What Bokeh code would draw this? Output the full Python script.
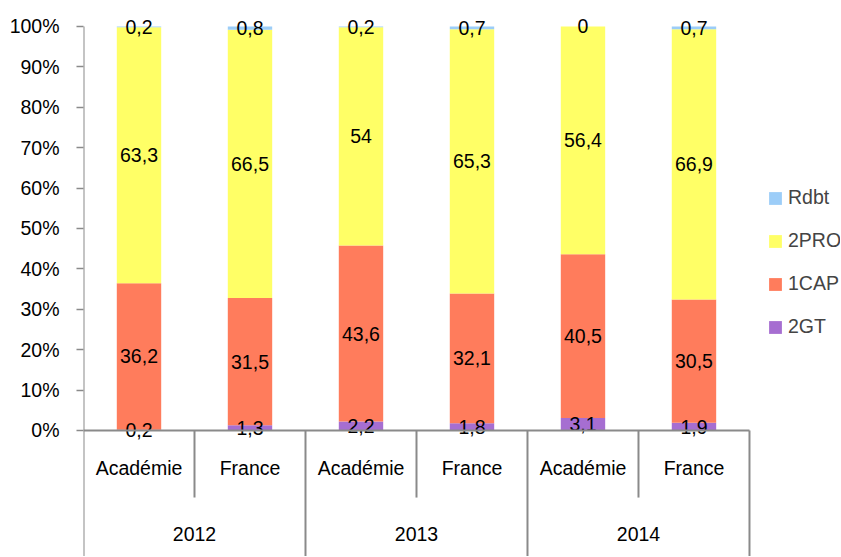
import numpy as np
from bokeh.plotting import figure
from bokeh.models import ColumnDataSource, Range1d, FixedTicker, CustomJSTickFormatter, Legend, LegendItem
from bokeh.core.properties import value
from bokeh.embed import file_html
from bokeh.resources import INLINE

years = ["2012", "2013", "2014"]
entities = ["Académie", "France"]
series = ["2GT", "1CAP", "2PRO", "Rdbt"]
gt2 = [0.2, 1.3, 2.2, 1.8, 3.1, 1.9]
cap1 = [36.2, 31.5, 43.6, 32.1, 40.5, 30.5]
pro2 = [63.3, 66.5, 54.0, 65.3, 56.4, 66.9]
rdbt = [0.2, 0.8, 0.2, 0.7, 0.0, 0.7]
colors = ["#A66ED1", "#FF7C5C", "#FFFF66", "#9CCDF8"]
yticks = [0, 10, 20, 30, 40, 50, 60, 70, 80, 90, 100]

FONT = "Liberation Sans"
FS = "19.5px"
GRAY = "#8a8a8a"

raw = np.array([gt2, cap1, pro2, rdbt])
tot = raw.sum(axis=0)
norm = raw / tot * 100
n = raw.shape[1]
xs = np.arange(n) + 0.5
cats = [e for y in years for e in entities]

data = {"x": xs, "cat": cats}
keys = ["s0", "s1", "s2", "s3"]
for k, row in zip(keys, norm):
    data[k] = row
src = ColumnDataSource(data)

y0, y1 = -31.19, 102.475
p = figure(width=840, height=556, output_backend="svg", toolbar_location=None,
           x_range=Range1d(0, 6.82), y_range=Range1d(y0, y1), title=None,
           min_border_left=83, min_border_right=0, min_border_top=16, min_border_bottom=0)
p.outline_line_color = None
p.xgrid.visible = False
p.ygrid.visible = False
p.xaxis.visible = False
p.background_fill_color = "white"

ya = p.yaxis[0]
ya.ticker = FixedTicker(ticks=yticks)
ya.formatter = CustomJSTickFormatter(code="return tick.toFixed(0) + '%';")
ya.axis_line_color = None
ya.major_tick_out = 7
ya.major_tick_in = 0
ya.minor_tick_line_color = None
ya.major_tick_line_color = GRAY
ya.major_tick_line_width = 1.5
ya.major_label_text_font = FONT
ya.major_label_text_font_size = FS
ya.major_label_text_color = "#000000"
ya.major_label_standoff = 17

rends = p.vbar_stack(keys, x="x", width=0.4, color=colors, line_color=None, source=src)

# data labels
cum = np.cumsum(norm, axis=0)
mids = cum - norm / 2
lx, ly, lt = [], [], []
for i in range(raw.shape[0]):
    for j in range(n):
        lx.append(xs[j]); ly.append(mids[i, j])
        lt.append(("%g" % raw[i, j]).replace(".", ","))
p.text(x=lx, y=ly, text=lt, text_align="center", text_baseline="middle",
       text_font=value(FONT), text_font_size=FS, text_color="#000000")

# axes lines / category separators
p.segment(x0=[0], y0=[0], x1=[n], y1=[0], line_color=GRAY, line_width=2)
p.segment(x0=[0], y0=[y0], x1=[0], y1=[100], line_color=GRAY, line_width=2)
ng = len(years)
ne = len(entities)
sub_sep = [g * ne + k for g in range(ng) for k in range(1, ne)]
grp_sep = [g * ne for g in range(1, ng + 1)]
p.segment(x0=sub_sep, y0=[0] * len(sub_sep), x1=sub_sep, y1=[-16.6] * len(sub_sep),
          line_color=GRAY, line_width=2)
p.segment(x0=grp_sep, y0=[0] * len(grp_sep), x1=grp_sep, y1=[y0] * len(grp_sep),
          line_color=GRAY, line_width=2)

p.text(x=xs, y=[-9.2] * n, text=cats, text_align="center", text_baseline="middle",
       text_font=value(FONT), text_font_size=FS, text_color="#000000")
gx = [g * ne + ne / 2 for g in range(ng)]
p.text(x=gx, y=[-25.5] * ng, text=years, text_align="center", text_baseline="middle",
       text_font=value(FONT), text_font_size=FS, text_color="#000000")

items = [LegendItem(label=s, renderers=[r]) for s, r in zip(series, rends)][::-1]
leg = Legend(items=items, location=(684, 218), padding=0, margin=0,
             glyph_width=16, glyph_height=16, label_height=20, spacing=20,
             label_standoff=5, label_text_font=FONT, label_text_font_size=FS,
             border_line_color=None, background_fill_alpha=0)
p.add_layout(leg, "center")

open("out.html", "w").write(file_html(p, INLINE))
